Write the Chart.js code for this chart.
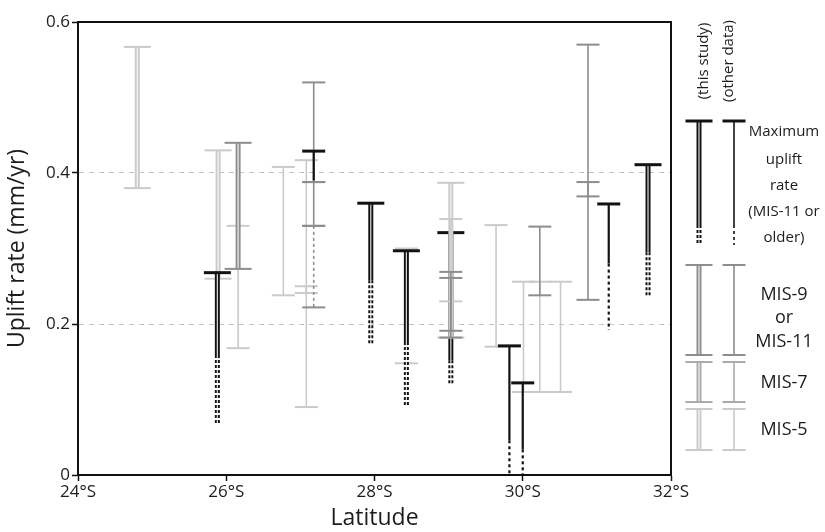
<!DOCTYPE html>
<html>
<head>
<meta charset="utf-8">
<script src="https://cdn.jsdelivr.net/npm/chart.js@4.4.1/dist/chart.umd.min.js"></script>
<style>
  html, body { margin: 0; padding: 0; background: #fff; }
  #wrap { width: 825px; height: 532px; }
</style>
</head>
<body>
<div id="wrap"><canvas id="uplift-chart" width="825" height="532"></canvas></div>
<script>
// one entry per error bar (latitude in °S, uplift rate in mm/yr)
const barLat    = [24.80, 25.89, 26.16, 26.16, 25.88, 26.77, 27.08, 27.08, 27.18, 27.18, 27.18, 27.18,
                   27.95, 28.43, 28.43, 29.03, 29.03, 29.03, 29.03, 29.03,
                   29.64, 29.82, 30.01, 30.00, 30.23, 30.23, 30.51, 30.88, 30.88, 31.16, 31.69];
const barTop    = [0.567, 0.430, 0.330, 0.440, 0.268, 0.408, 0.417, 0.250, 0.520, 0.388, 0.330, 0.429,
                   0.360, 0.300, 0.297, 0.321, 0.387, 0.339, 0.269, 0.261,
                   0.331, 0.171, 0.256, 0.122, 0.256, 0.329, 0.256, 0.570, 0.388, 0.359, 0.411];
const barBottom = [0.380, 0.260, 0.168, 0.273, 0.159, 0.238, 0.090, 0.241, 0.388, 0.330, 0.330, 0.390,
                   0.258, 0.148, 0.176, 0.152, 0.182, 0.230, 0.191, 0.182,
                   0.170, 0.046, 0.110, 0.034, 0.110, 0.238, 0.110, 0.369, 0.232, 0.280, 0.295];
// lower end of the dotted part (minimum estimate), null when there is none
const barDotted = [null, null, null, null, 0.069, null, null, null, null, null, 0.222, null,
                   0.172, null, 0.090, 0.119, null, null, null, null,
                   null, 0.0, null, 0.0, null, null, null, null, null, 0.192, 0.236];
const barKind   = ['mis5', 'mis5', 'mis5', 'mis911', 'max', 'mis5', 'mis5', 'mis5', 'mis911', 'mis911', 'mis911', 'max',
                   'max', 'mis5', 'max', 'max', 'mis5', 'mis5', 'mis911', 'mis911',
                   'mis5', 'max', 'mis5', 'max', 'mis5', 'mis911', 'mis5', 'mis911', 'mis911', 'max', 'max'];
const barSource = ['study', 'study', 'other', 'study', 'study', 'other', 'other', 'other', 'other', 'other', 'other', 'other',
                   'study', 'other', 'study', 'study', 'study', 'other', 'other', 'other',
                   'other', 'other', 'other', 'other', 'other', 'other', 'other', 'other', 'other', 'other', 'study'];
const barCaps   = ['both', 'both', 'both', 'both', 'top', 'both', 'both', 'both', 'both', 'both', 'both', 'top',
                   'top', 'both', 'top', 'top', 'both', 'both', 'both', 'both',
                   'both', 'top', 'both', 'top', 'both', 'both', 'both', 'both', 'both', 'top', 'top'];

const xTicks = [24, 26, 28, 30, 32];
const yTicks = [0, 0.2, 0.4, 0.6];
const legendColumns = ['(this study)', '(other data)'];
const legendKinds = ['max', 'mis911', 'mis7', 'mis5'];
const legendText = [['Maximum', 'uplift', 'rate', '(MIS-11 or', 'older)'], ['MIS-9', 'or', 'MIS-11'], ['MIS-7'], ['MIS-5']];

const kindColor = { max: '#121212', mis911: '#8d8d8d', mis7: '#ababab', mis5: '#cacaca' };
const FONT = '"Open Sans", "Noto Sans", sans-serif';
Chart.defaults.font.family = FONT;
Chart.defaults.color = '#1c1c1c';

const datasets = [];
barLat.forEach((lat, i) => {
  const col = kindColor[barKind[i]];
  const study = barSource[i] === 'study';
  const w = study ? 5 : (barKind[i] === 'max' ? 2.2 : 1.6);
  const base = 10000 - i * 10;
  const seg = (y1, y2) => ({
    data: [{ x: lat, y: y1 }, { x: lat, y: y2 }],
    showLine: true, pointRadius: 0, borderColor: col, borderWidth: w
  });
  datasets.push(Object.assign(seg(barTop[i], barBottom[i]), { order: base }));
  if (barDotted[i] !== null) {
    datasets.push(Object.assign(seg(barBottom[i], barDotted[i]), { borderDash: study ? [3, 2] : [3, 3], order: base }));
  }
  if (study) {
    const low = barDotted[i] !== null ? barDotted[i] : barBottom[i];
    datasets.push(Object.assign(seg(barTop[i], low), { borderColor: 'rgba(255,255,255,0.85)', borderWidth: 1.2, order: base - 1 }));
  }
  const capPts = [{ x: lat, y: barTop[i] }];
  if (barCaps[i] === 'both') capPts.push({ x: lat, y: barDotted[i] !== null ? barDotted[i] : barBottom[i] });
  datasets.push({
    data: capPts, showLine: false, pointStyle: 'line',
    pointRadius: study ? 13.5 : 11.5,
    pointBorderWidth: barKind[i] === 'max' ? 3 : 2,
    pointBorderColor: col, pointBackgroundColor: col,
    order: base - 2
  });
});

// top and right frame of the plot
const framePlugin = {
  id: 'frame',
  afterDatasetsDraw(chart) {
    const { ctx, chartArea: a } = chart;
    ctx.save();
    ctx.strokeStyle = '#111';
    ctx.lineWidth = 2;
    ctx.beginPath();
    ctx.moveTo(a.left, a.top);
    ctx.lineTo(a.right, a.top);
    ctx.lineTo(a.right, a.bottom);
    ctx.stroke();
    ctx.restore();
  }
};

// legend drawn at the right of the plot
const sideLegend = {
  id: 'sideLegend',
  afterDraw(chart) {
    const { ctx, chartArea: a } = chart;
    const colX = [a.right + 28, a.right + 63];
    const rows = [[121, 225, 245], [265, 355, null], [362, 402, null], [409, 450, null]];
    const textY = [[132, 160, 186, 212, 238], [295, 318, 342], [383], [430]];
    const textX = a.right + 113;
    ctx.save();
    ctx.fillStyle = '#1c1c1c';
    ctx.textAlign = 'center';
    ctx.textBaseline = 'middle';
    ctx.font = '15px ' + FONT;
    legendColumns.forEach((t, j) => {
      ctx.save();
      ctx.translate(j ? 729 : 704, 61);
      ctx.rotate(-Math.PI / 2);
      ctx.fillText(t, 0, 0);
      ctx.restore();
    });
    const line = (x, y1, y2, col, w, dash) => {
      ctx.save();
      ctx.strokeStyle = col; ctx.lineWidth = w; ctx.setLineDash(dash || []);
      ctx.beginPath(); ctx.moveTo(x, y1); ctx.lineTo(x, y2); ctx.stroke();
      ctx.restore();
    };
    const cap = (x, y, half, col, w) => {
      ctx.save();
      ctx.strokeStyle = col; ctx.lineWidth = w;
      ctx.beginPath(); ctx.moveTo(x - half, y); ctx.lineTo(x + half, y); ctx.stroke();
      ctx.restore();
    };
    legendKinds.forEach((k, r) => {
      const col = kindColor[k];
      const [t, b, d] = rows[r];
      const cw = k === 'max' ? 3 : 2;
      // this study: double line
      line(colX[0], t, b, col, 5);
      if (d) line(colX[0], b, d, col, 5, [3, 2]);
      line(colX[0], t, d || b, 'rgba(255,255,255,0.85)', 1.2);
      cap(colX[0], t, 13.5, col, cw);
      if (!d) cap(colX[0], b, 13.5, col, cw);
      // other data: single line
      line(colX[1], t, b, col, 1.6);
      if (d) line(colX[1], b, d, col, 1.6, [3, 3]);
      cap(colX[1], t, 11.5, col, cw);
      if (!d) cap(colX[1], b, 11.5, col, cw);
      ctx.font = (r === 0 ? '15px ' : '18px ') + FONT;
      legendText[r].forEach((s, n) => ctx.fillText(s, textX, textY[r][n]));
    });
    ctx.restore();
  }
};

new Chart(document.getElementById('uplift-chart').getContext('2d'), {
  type: 'scatter',
  data: { datasets },
  options: {
    responsive: false,
    animation: false,
    layout: { padding: { top: 22, right: 154, bottom: 0, left: 0 } },
    plugins: { legend: { display: false }, tooltip: { enabled: false } },
    elements: { line: { tension: 0 } },
    scales: {
      x: {
        type: 'linear', min: 24, max: 32,
        afterBuildTicks: s => { s.ticks = xTicks.map(v => ({ value: v })); },
        ticks: { font: { size: 17 }, color: '#1c1c1c', padding: 1, maxRotation: 0, callback: v => v + '°S' },
        grid: { color: 'rgba(0,0,0,0)', tickColor: '#111', tickLength: 6, tickWidth: 1.5 },
        border: { color: '#111', width: 2 },
        title: { display: true, text: 'Latitude', font: { size: 23 }, color: '#1c1c1c', padding: { top: 0, bottom: 0 } },
        afterFit: s => { s.height = 57; }
      },
      y: {
        type: 'linear', min: 0, max: 0.6,
        afterBuildTicks: s => { s.ticks = yTicks.map(v => ({ value: v })); },
        ticks: { font: { size: 17 }, color: '#1c1c1c', padding: 2, callback: v => String(Math.round(v * 10) / 10) },
        grid: {
          color: c => (c.tick && c.tick.value > 0.1 && c.tick.value < 0.5) ? '#c4c4c4' : 'rgba(0,0,0,0)',
          lineWidth: 1, tickColor: '#111', tickLength: 6, tickWidth: 1.5
        },
        border: { color: '#111', width: 2, dash: [5, 5] },
        title: { display: true, text: 'Uplift rate (mm/yr)', font: { size: 23 }, color: '#1c1c1c', padding: { top: 4, bottom: 0 } },
        afterFit: s => { s.width = 78; }
      }
    }
  },
  plugins: [framePlugin, sideLegend]
});
</script>
</body>
</html>
